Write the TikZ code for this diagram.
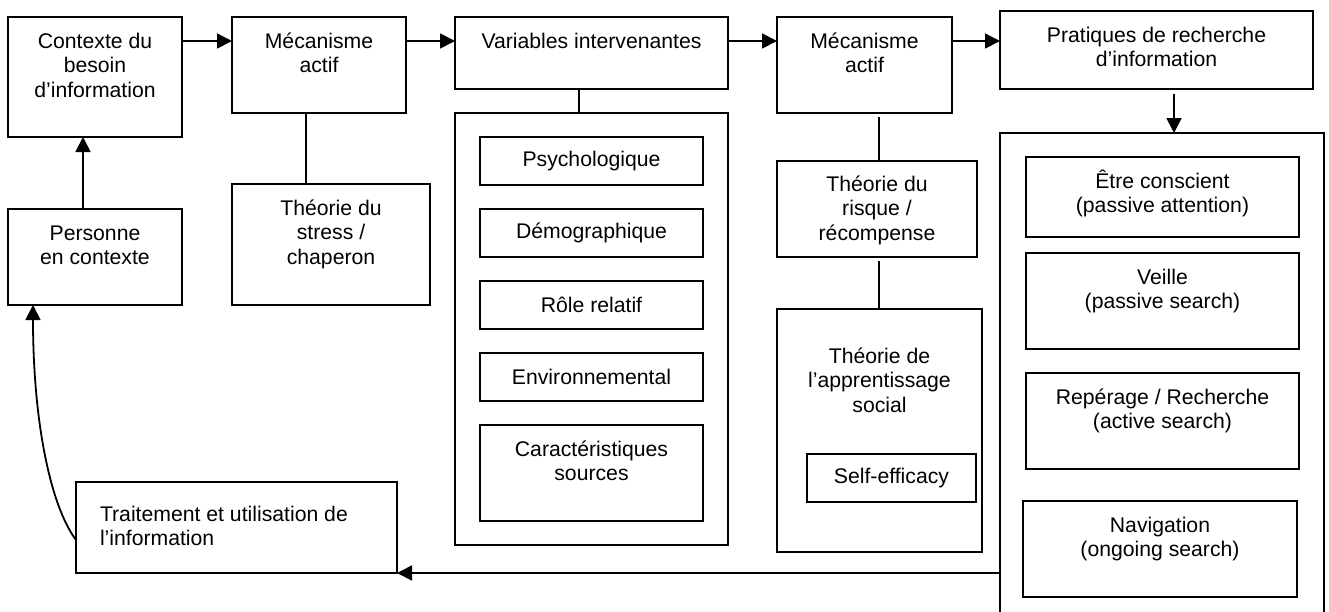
\documentclass[tikz,border=0pt]{standalone}
\usepackage{fontspec}
\setmainfont{Liberation Sans}
\usetikzlibrary{arrows.meta}
\newcommand{\tb}[4]{\parbox[c][#2][t]{#1}{\centering\null\vskip#3\relax #4}}
\newcommand{\tbl}[4]{\parbox[c][#2][t]{#1}{\raggedright\leftskip=12pt\null\vskip#3\relax #4}}
\begin{document}
\begin{tikzpicture}[x=0.5pt,y=-0.5pt,
  font=\fontsize{10.6pt}{12.25pt}\selectfont,
  box/.style={draw, line width=1pt, inner sep=0pt, outer sep=0pt},
  arr/.style={-{Triangle[length=7.5pt,width=7.5pt]}, line width=0.9pt},
  ln/.style={line width=0.9pt}]
\useasboundingbox (0,0) rectangle (1329,611);
\clip (0,0) rectangle (1329,611);
% containers
\node[box, minimum width=136.5pt, minimum height=216pt] (varc) at (591.5,329) {};
\node[box, minimum width=162pt, minimum height=260pt] (pratc) at (1162,393) {};
% left column
\node[box] (ctx) at (95,77) {\tb{87pt}{60pt}{3.25pt}{Contexte du\\besoin\\d’information}};
\node[box] (pers) at (95,257) {\tb{87pt}{48pt}{3.25pt}{Personne\\en contexte}};
\node[box] (mec1) at (319,65) {\tb{87pt}{48pt}{3.25pt}{Mécanisme\\actif}};
\node[box] (stress) at (331,244.5) {\tb{99pt}{60.5pt}{3.25pt}{Théorie du\\stress /\\chaperon}};
\node[box] (trait) at (236.5,527.5) {\tbl{160.5pt}{45.5pt}{7.25pt}{Traitement et utilisation de\\l’information}};
% variables
\node[box] (var) at (591.5,53) {\tb{136.5pt}{36pt}{3.25pt}{Variables intervenantes}};
\node[box, minimum width=111.5pt, minimum height=24pt] (psy) at (591.5,161) {Psychologique};
\node[box, minimum width=111.5pt, minimum height=24pt] (demo) at (591.5,233) {Démographique};
\node[box, minimum width=111.5pt, minimum height=24pt] (role) at (591.5,305) {Rôle relatif};
\node[box, minimum width=111.5pt, minimum height=24pt] (env) at (591.5,377) {Environnemental};
\node[box] (car) at (591.5,473) {\tb{111.5pt}{48pt}{3.25pt}{Caractéristiques\\sources}};
% second mechanism
\node[box] (mec2) at (864.5,65) {\tb{87.5pt}{48pt}{3.25pt}{Mécanisme\\actif}};
\node[box] (risk) at (877,209) {\tb{100pt}{48pt}{2.75pt}{Théorie du\\risque /\\récompense}};
\node[box] (soc) at (879.5,430.5) {\tb{102.5pt}{121.5pt}{14.75pt}{Théorie de\\l’apprentissage\\social}};
\node[box, minimum width=84.5pt, minimum height=24pt] (self) at (891.5,478) {Self-efficacy};
% practices
\node[box] (prat) at (1156.5,50) {\tb{156.5pt}{39pt}{3.25pt}{Pratiques de recherche\\d’information}};
\node[box] (etre) at (1162.5,197) {\tb{136.5pt}{40pt}{3.25pt}{Être conscient\\(passive attention)}};
\node[box] (veille) at (1162.5,301) {\tb{136.5pt}{48pt}{3.25pt}{Veille\\(passive search)}};
\node[box] (rep) at (1162.5,421) {\tb{136.5pt}{48pt}{3.25pt}{Repérage / Recherche\\(active search)}};
\node[box] (nav) at (1160,549) {\tb{137pt}{48pt}{3.25pt}{Navigation\\(ongoing search)}};
% connectors
\coordinate (row) at (0,41);
\draw[arr] (ctx.east |- row) -- (mec1.west |- row);
\draw[arr] (mec1.east |- row) -- (var.west |- row);
\draw[arr] (var.east |- row) -- (mec2.west |- row);
\draw[arr] (mec2.east |- row) -- (prat.west |- row);
\coordinate (xa) at (83,0);
\draw[arr] (pers.north -| xa) -- (ctx.south -| xa);
\coordinate (xb) at (306,0);
\draw[ln] (mec1.south -| xb) -- (stress.north -| xb);
\coordinate (xc) at (579,0);
\draw[ln] (var.south -| xc) -- (varc.north -| xc);
\coordinate (xd) at (879,0);
\draw[ln, shorten <=2pt] (mec2.south -| xd) -- (risk.north -| xd);
\draw[ln, shorten <=2pt] (risk.south -| xd) -- (soc.north -| xd);
\coordinate (xe) at (1174,0);
\draw[arr, shorten <=2.5pt] (prat.south -| xe) -- (pratc.north -| xe);
\draw[arr] (pratc.west |- trait.south east) -- (trait.south east);
\coordinate (xf) at (33,0);
\draw[arr] ([yshift=-6.25pt]trait.west) .. controls (50,505) and (33,420) .. (pers.south -| xf);
\end{tikzpicture}
\end{document}
